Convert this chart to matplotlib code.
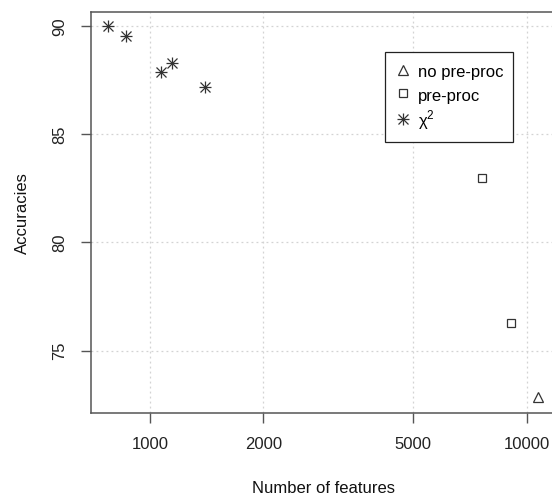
import matplotlib
matplotlib.use('Agg')
import matplotlib.pyplot as plt
from matplotlib.legend_handler import HandlerTuple

plt.rcParams['font.family'] = ['Liberation Sans', 'DejaVu Sans']
plt.rcParams['mathtext.fontset'] = 'custom'
plt.rcParams['mathtext.rm'] = 'Liberation Sans'

# values
raw_x = [10690]
raw_y = [72.85]
pre_x = [7630, 9100]
pre_y = [83.0, 76.3]
chi_x = [776, 862, 1069, 1146, 1403]
chi_y = [90.0, 89.57, 87.88, 88.32, 87.21]

xticks = [1000, 2000, 5000, 10000]
yticks = [75, 80, 85, 90]

fig = plt.figure(figsize=(5.52, 4.95), dpi=100)
ax = fig.add_axes([0.1649, 0.165, 0.8405, 0.8108])
ax.set_xscale('log')
ax.set_xlim(10 ** 2.844, 10 ** 4.075)
ax.set_ylim(72.1, 90.66)

ax.set_xticks(xticks)
ax.set_xticklabels([str(v) for v in xticks])
ax.minorticks_off()
ax.set_yticks(yticks)
ax.set_yticklabels([str(v) for v in yticks], rotation=90, va='center')

ax.grid(True, linestyle=(0, (1.5, 2.5)), color='#d3d3d3', linewidth=0.9)
ax.set_axisbelow(True)

for s in ['left', 'bottom', 'top']:
    ax.spines[s].set_color('#555555')
    ax.spines[s].set_linewidth(1.1)
ax.spines['right'].set_visible(False)
ax.tick_params(direction='out', length=7.2, width=1.0, color='#555555',
               labelsize=12, pad=10, labelcolor='#222222')

mc = '#333333'
h1, = ax.plot(raw_x, raw_y, ls='none', marker='^', ms=7.5, mfc='none',
              mec=mc, mew=0.9)
h2, = ax.plot(pre_x, pre_y, ls='none', marker='s', ms=6.3, mfc='none',
              mec=mc, mew=0.9)
h3a, = ax.plot(chi_x, chi_y, ls='none', marker='+', ms=9, mec=mc, mew=0.9)
h3b, = ax.plot(chi_x, chi_y, ls='none', marker='x', ms=6.5, mec=mc, mew=0.9)

leg = ax.legend([h1, h2, (h3a, h3b)], ['no pre-proc', 'pre-proc', r'χ$^2$'],
                handler_map={tuple: HandlerTuple(ndivide=1)},
                loc='upper left', bbox_to_anchor=(0.633, 0.8996),
                borderaxespad=0, fancybox=False, framealpha=1,
                edgecolor='#222222', fontsize=12, handlelength=1.0,
                handleheight=1.45, handletextpad=0.42, labelspacing=0.22,
                borderpad=0.58)
leg.get_frame().set_linewidth(0.9)

ax.set_xlabel('Number of features', fontsize=12, labelpad=21, color='#111111')
ax.set_ylabel('Accuracies', fontsize=12, labelpad=16, color='#111111')

fig.savefig('out.png', dpi=100)
